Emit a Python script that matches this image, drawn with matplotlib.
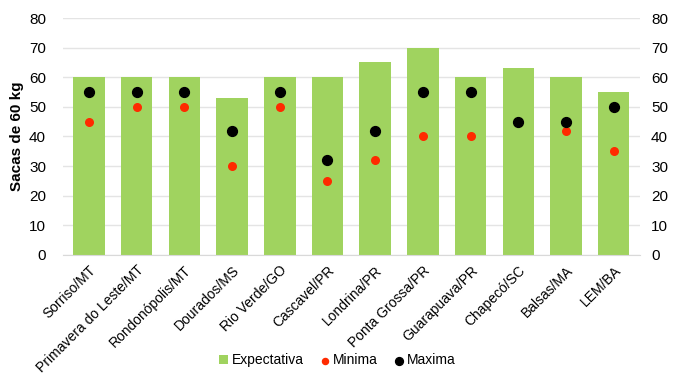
import numpy as np
import matplotlib.pyplot as plt

cidades = ["Sorriso/MT", "Primavera do Leste/MT", "Rondonópolis/MT", "Dourados/MS",
           "Rio Verde/GO", "Cascavel/PR", "Londrina/PR", "Ponta Grossa/PR",
           "Guarapuava/PR", "Chapecó/SC", "Balsas/MA", "LEM/BA"]
expectativa = [60, 60, 60, 53, 60, 60, 65, 70, 60, 63, 60, 55]
minima = [45, 50, 50, 30, 50, 25, 32, 40, 40, 45, 42, 35]
maxima = [55, 55, 55, 42, 55, 32, 42, 55, 55, 45, 45, 50]

plt.rcParams['font.family'] = ['Liberation Sans', 'DejaVu Sans']

fig = plt.figure(figsize=(6.75, 3.76), dpi=100)
ax = fig.add_axes([0.093, 0.322, 0.855, 0.63])
x = np.arange(len(cidades))

b = ax.bar(x, expectativa, width=0.66, color='#a0d35f', label='Expectativa', zorder=2)
mn = ax.scatter(x, minima, s=30, color='#ff2a00', label='Minima', zorder=3)
mx = ax.scatter(x, maxima, s=50, color='black', label='Maxima', zorder=4)

ax.set_ylim(0, 80)
ax.set_xlim(-0.55, len(cidades) - 0.45)
ax.set_yticks(range(0, 81, 10))
ax.grid(axis='y', color='#e4e4e4', linewidth=1, zorder=0)
for s in ['top', 'left', 'right']:
    ax.spines[s].set_visible(False)
ax.spines['bottom'].set_color('#d9d9d9')
ax.tick_params(axis='both', length=0, labelsize=11)
ax.tick_params(axis='y', pad=12)
ax.tick_params(axis='x', pad=6)
ax.set_xticks(x)
ax.set_xticklabels(cidades, rotation=45, ha='right', rotation_mode='anchor', fontsize=10)
ax.set_ylabel('Sacas de 60 kg', fontsize=11, fontweight='bold')

ax2 = ax.twinx()
ax2.set_ylim(0, 80)
ax2.set_yticks(range(0, 81, 10))
for s in ['top', 'left', 'right', 'bottom']:
    ax2.spines[s].set_visible(False)
ax2.tick_params(axis='y', length=0, labelsize=11, pad=8)

fig.legend([b, mn, mx], ['Expectativa', 'Minima', 'Maxima'],
           loc='lower center', bbox_to_anchor=(0.5, -0.01), ncol=3, frameon=False,
           fontsize=10, handlelength=0.6, handletextpad=0.3, columnspacing=1.2,
           markerscale=0.8)

fig.savefig('out.png', dpi=100)
